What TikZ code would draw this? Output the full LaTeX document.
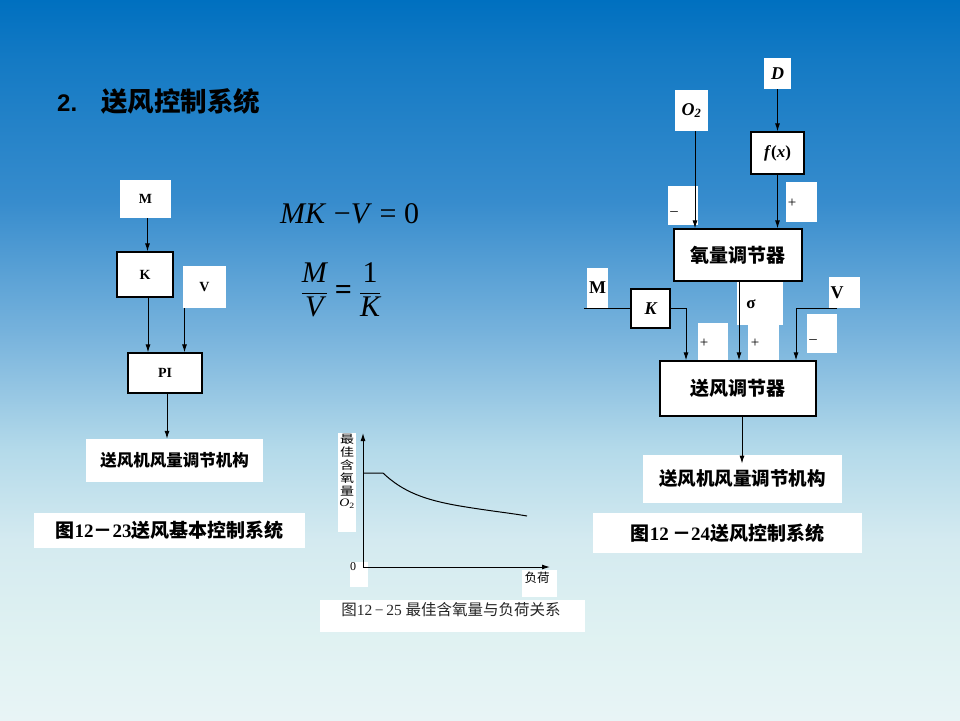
\documentclass[tikz,border=0pt]{standalone}
\usepackage{fontspec}
\setmainfont{Liberation Serif}
\newfontfamily\cjk{Noto Sans CJK SC}
\newfontfamily\sanslat{Liberation Sans}
\usetikzlibrary{arrows.meta, positioning}
\definecolor{bga}{RGB}{232,244,246}
\definecolor{bgb}{RGB}{224,242,242}
\definecolor{bgc}{RGB}{212,234,240}
\definecolor{bgd}{RGB}{180,218,234}
\definecolor{bge}{RGB}{118,178,220}
\definecolor{bgf}{RGB}{55,140,205}
\definecolor{bgg}{RGB}{20,122,196}
\definecolor{bgh}{RGB}{0,112,192}
\pgfdeclareverticalshading{slidebg}{100bp}{color(0bp)=(bga); color(25bp)=(bga); color(30.5bp)=(bgb); color(37.5bp)=(bgc); color(43.75bp)=(bgd); color(52bp)=(bge); color(61bp)=(bgf); color(70.8bp)=(bgg); color(75bp)=(bgh); color(100bp)=(bgh)}
\newcommand{\fsz}[1]{\fontsize{#1}{#1}\selectfont}
\newcommand{\zh}[1]{{\cjk\bfseries #1}}

\begin{document}
\begin{tikzpicture}[
    x=1pt, y=-1pt,
    blk/.style={draw, line width=1.2pt, fill=white, inner sep=0pt},
    wbox/.style={fill=white, inner sep=0pt},
    arrow/.style={-{Latex[length=8pt,width=5pt]}, line width=1pt},
    link/.style={line width=1pt},
    sign/.style={font=\fsz{15}, inner sep=0pt},
  ]
  \useasboundingbox (0,0) rectangle (960,720);
  \shade[shading=slidebg] (0,0) rectangle (960,720);

  % title
  \node[anchor=base west, inner sep=0pt] (title) at (57,111)
    {{\sanslat\bfseries\fsz{24}2.}\hspace{24pt}{\cjk\bfseries\fsz{26.5}送风控制系统}};

  % fig 12-23
  \node[wbox, minimum width=51pt, minimum height=38pt, font=\bfseries\fsz{14}] (M) at (145.5,199) {M};
  \node[blk, minimum width=56pt, minimum height=45pt, font=\bfseries\fsz{14}] (K) at (145,274.5) {K};
  \node[wbox, minimum width=43pt, minimum height=42pt, font=\bfseries\fsz{14}] (V) at (204.5,287) {V};
  \node[blk, minimum width=74pt, minimum height=40pt, font=\bfseries\fsz{14}] (PI) at (165,373) {PI};
  \node[wbox, minimum width=177pt, minimum height=43pt, font=\cjk\bfseries\fsz{16.5}] (act1) at (174.5,460.5) {送风机风量调节机构};
  \node[wbox, minimum width=271pt, minimum height=35pt, font=\fsz{19}] (cap1) at (169.5,530.5)
    {\zh{图}\textbf{12}\zh{－}\textbf{23}\zh{送风基本控制系统}};

  \draw[arrow] ([xshift=2pt]M.south) -- ([xshift=2pt]M.south |- K.north);
  \draw[arrow] ([xshift=3pt]K.south) -- ([xshift=3pt]K.south |- PI.north);
  \draw[arrow] ([xshift=-20pt]V.south) -- ([xshift=-20pt]V.south |- PI.north);
  \draw[arrow] ([xshift=2pt]PI.south) -- ([xshift=2pt]PI.south |- act1.north);

  % equations
  \node[anchor=base west, inner sep=0pt, font=\fsz{30}] (eqA) at (280,223)
    {\textit{MK} −\textit{V} = 0};
  \node[inner sep=0pt, font=\fsz{30}] (eqB) at (341,290)
    {$\displaystyle\frac{\textit{M}}{\textit{V}}\mathrel{\mbox{\bfseries =}}\frac{\mbox{1}}{\textit{K}}$};

  % fig 12-25
  \node[wbox, minimum width=18pt, minimum height=99pt] (ylab) at (347,482.5) {};
  \node[anchor=north, inner sep=0pt, font=\cjk\fsz{14}] (ylabt) at (347,434)
    {\scalebox{1}[0.82]{\begin{tabular}{@{}c@{}}最\\佳\\含\\氧\\量\\{\rmfamily\textit{O}\textsubscript{2}}\end{tabular}}};
  \node[wbox, minimum width=18pt, minimum height=25pt] (zbox) at (359,574.5) {};
  \node[font=\fsz{12}, inner sep=0pt] (zero) at (353,567) {0};
  \node[wbox, minimum width=35pt, minimum height=27pt] (ldbox) at (539.5,583.5) {};
  \node[font=\cjk\fsz{12.5}, inner sep=0pt] (ld) at (537,578) {负荷};
  \node[wbox, minimum width=265pt, minimum height=32pt] (cap3) at (452.5,616) {};
  \node[font=\fsz{15.5}, inner sep=0pt, text=black!85] (cap3t) at (451,610)
    {{\cjk 图}12\,−\,25 {\cjk 最佳含氧量与负荷关系}};

  \coordinate (o) at (363,567);
  \coordinate (ytip) at (363,433);
  \coordinate (xtip) at (550,567);
  \draw[arrow] (o) -- (ytip);
  \draw[arrow] (o) -- (xtip);
  \draw[link] (363,473) -- (383,473) .. controls (403,492) and (425,500) .. (460,506)
    .. controls (490,511) and (510,513) .. (527,516);

  % fig 12-24
  \node[wbox, minimum width=27pt, minimum height=31pt, font=\bfseries\itshape\fsz{18}] (D) at (777.5,73.5) {D};
  \node[wbox, minimum width=33pt, minimum height=41pt, font=\bfseries\itshape\fsz{18}] (O2) at (691.5,110.5) {O\textsubscript{2}};
  \node[blk, minimum width=53pt, minimum height=42pt, font=\bfseries\fsz{17}] (fx) at (777.5,153) {\textit{f}(\textit{x})};
  \node[wbox, minimum width=30pt, minimum height=39pt] (mnA) at (683,205.5) {};
  \node[sign] (mnAt) at (674,214) {–};
  \node[wbox, minimum width=31pt, minimum height=40pt] (plA) at (801.5,202) {};
  \node[sign] (plAt) at (792,203) {+};
  \node[blk, minimum width=128pt, minimum height=52pt, font=\cjk\bfseries\fsz{19}] (oxy) at (738,255) {氧量调节器};

  \node[wbox, minimum width=21pt, minimum height=40pt, font=\bfseries\fsz{18}] (M2) at (597.5,288) {M};
  \node[blk, minimum width=39pt, minimum height=39pt, font=\bfseries\itshape\fsz{18}] (K2) at (650.5,308.5) {K};
  \node[wbox, minimum width=46pt, minimum height=43pt] (sg) at (760,303.5) {};
  \node[font=\bfseries\fsz{17}, inner sep=0pt] (sgt) at (751,304) {σ};
  \node[wbox, minimum width=30pt, minimum height=37pt] (plB) at (713,341.5) {};
  \node[sign] (plBt) at (704,343) {+};
  \node[wbox, minimum width=31pt, minimum height=35pt] (plC) at (763.5,342.5) {};
  \node[sign] (plCt) at (755,343) {+};
  \node[wbox, minimum width=31pt, minimum height=31pt] (V2) at (844.5,292.5) {};
  \node[font=\bfseries\fsz{18}, inner sep=0pt] (V2t) at (837,293) {V};
  \node[wbox, minimum width=30pt, minimum height=39pt] (mnB) at (822,333.5) {};
  \node[sign] (mnBt) at (813,342) {–};
  \node[blk, minimum width=156pt, minimum height=55pt, font=\cjk\bfseries\fsz{19}] (air) at (738,388.5) {送风调节器};
  \node[wbox, minimum width=199pt, minimum height=48pt, font=\cjk\bfseries\fsz{18.5}] (act2) at (742.5,479) {送风机风量调节机构};
  \node[wbox, minimum width=269pt, minimum height=40pt, font=\fsz{19}] (cap2) at (727.5,533)
    {\zh{图}\textbf{12}\,\zh{－}\textbf{24}\zh{送风控制系统}};

  \coordinate (mIn) at (584,308.5);
  \draw[arrow] (D) -- (fx);
  \draw[arrow] ([xshift=3.5pt]O2.south) -- ([xshift=3.5pt]O2.south |- oxy.north);
  \draw[arrow] (fx) -- (fx |- oxy.north);
  \draw[arrow] ([xshift=1pt]oxy.south) -- ([xshift=1pt]oxy.south |- air.north);
  \draw[link] (mIn) -- (K2.west);
  \draw[arrow] (K2.east) -| ([xshift=-52pt]air.north);
  \draw[arrow] ([xshift=-7.5pt]V2.south) -| ([xshift=58pt]air.north);
  \draw[arrow] ([xshift=4pt]air.south) -- ++(0,47);
\end{tikzpicture}
\end{document}
